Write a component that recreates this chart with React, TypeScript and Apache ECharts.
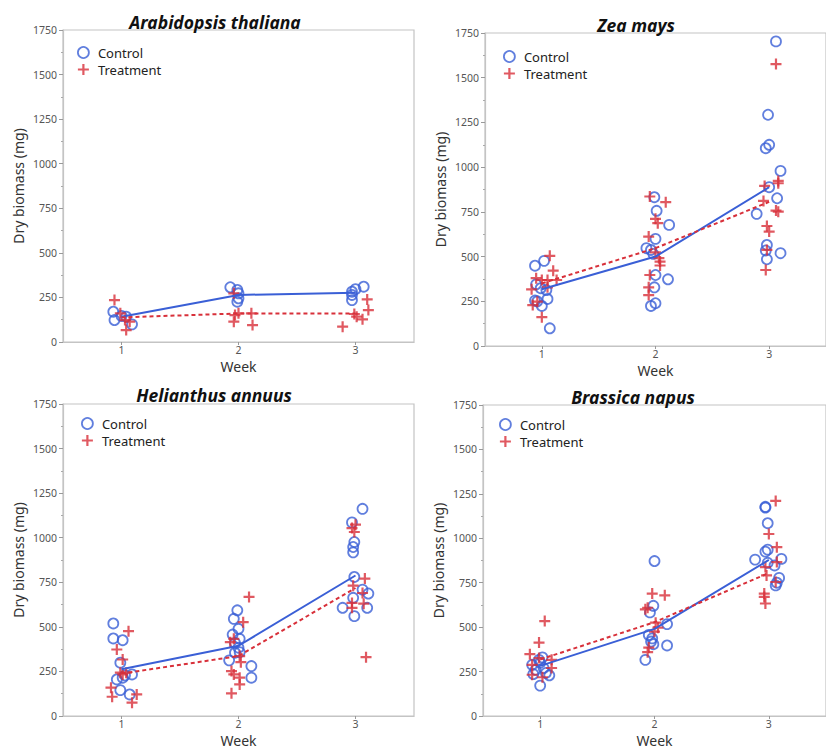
import React, { useEffect, useRef } from "react";
import * as echarts from "echarts";

// ---- data (week with horizontal jitter, dry biomass mg) ----
const weeks = [1, 2, 3];
const yTicks = [0, 250, 500, 750, 1000, 1250, 1500, 1750];

const arabTitle = "Arabidopsis thaliana";
const arabControl = [
  [0.93, 170], [0.94, 123], [1.0, 146], [1.04, 142], [1.09, 99],
  [1.93, 307], [1.99, 292], [2.0, 273], [2.0, 245], [1.99, 226],
  [2.97, 282], [2.97, 264], [2.97, 235], [3.0, 296], [3.07, 310],
];
const arabTreatment = [
  [0.94, 235], [0.99, 161], [1.03, 123], [1.07, 114], [1.04, 67],
  [1.96, 273], [1.97, 151], [1.96, 114], [2.0, 161], [2.11, 161], [2.12, 95],
  [2.89, 86], [2.99, 157], [3.01, 142], [3.06, 127], [3.1, 239], [3.11, 179],
];
const arabControlMean = [142, 264, 276];
const arabTreatmentMean = [138, 160, 160];

const zeaTitle = "Zea mays";
const zeaControl = [
  [0.94, 449], [1.02, 476], [0.95, 345], [0.99, 323], [1.04, 313], [0.94, 254], [0.96, 250], [1.0, 224], [1.05, 263], [1.07, 99],
  [1.99, 832], [2.01, 756], [2.0, 599], [1.92, 547], [1.96, 537], [1.98, 515], [2.0, 397], [1.99, 328], [1.96, 224], [2.0, 239], [2.12, 677], [2.11, 373],
  [3.06, 1703], [2.99, 1293], [2.97, 1106], [3.0, 1125], [3.1, 979], [3.0, 888], [3.07, 826], [2.89, 739], [2.98, 565], [2.97, 534], [2.98, 485], [3.1, 519],
];
const zeaTreatment = [
  [1.07, 504], [0.95, 379], [1.0, 369], [1.05, 369], [1.1, 421], [1.13, 369], [0.91, 317], [1.05, 328], [0.92, 229], [0.96, 248], [1.0, 161],
  [1.95, 836], [2.09, 804], [2.0, 711], [2.02, 687], [1.94, 612], [2.0, 524], [2.03, 491], [2.04, 472], [2.04, 450], [1.95, 397], [1.94, 328], [1.94, 285],
  [3.06, 1576], [3.08, 923], [3.08, 910], [2.96, 895], [2.95, 811], [3.06, 757], [3.08, 751], [2.98, 671], [3.0, 640], [2.98, 537], [2.97, 425],
];
const zeaControlMean = [317, 500, 888];
const zeaTreatmentMean = [350, 547, 806];

const heliTitle = "Helianthus annuus";
const heliControl = [
  [0.93, 519], [0.93, 435], [1.01, 425], [0.99, 299], [0.96, 205], [1.01, 215], [1.03, 228], [1.09, 233], [0.99, 145], [1.07, 121],
  [1.99, 593], [1.96, 545], [2.0, 489], [1.95, 457], [2.01, 433], [1.97, 410], [2.0, 383], [1.97, 355], [2.01, 358], [1.92, 312], [2.11, 280], [2.11, 215],
  [3.06, 1162], [2.97, 1086], [2.99, 976], [2.98, 948], [2.98, 918], [2.99, 780], [3.06, 709], [3.11, 687], [2.98, 663], [2.89, 607], [3.1, 607], [2.99, 560],
];
const heliTreatment = [
  [1.06, 476], [0.96, 373], [1.01, 317], [0.99, 243], [1.01, 233], [1.04, 243], [0.91, 159], [0.92, 108], [1.13, 121], [1.09, 75],
  [2.09, 668], [2.04, 526], [1.96, 433], [1.93, 414], [2.01, 336], [2.02, 302], [1.94, 252], [1.96, 233], [2.01, 215], [2.01, 177], [1.94, 127],
  [3.0, 1073], [2.97, 1054], [2.99, 1032], [3.08, 771], [2.98, 731], [3.06, 690], [2.97, 634], [3.07, 630], [2.97, 607], [3.09, 330],
];
const heliControlMean = [262, 394, 788];
const heliTreatmentMean = [238, 336, 718];

const brasTitle = "Brassica napus";
const brasControl = [
  [0.93, 288], [0.94, 236], [0.99, 316], [1.02, 330], [0.96, 260], [1.03, 270], [1.08, 229], [1.0, 171], [1.05, 242], [1.0, 300],
  [2.0, 872], [1.99, 620], [1.96, 583], [2.11, 517], [1.95, 456], [1.98, 437], [1.97, 419], [1.99, 404], [2.11, 397], [1.92, 316],
  [2.97, 1177], [2.97, 1173], [2.99, 1085], [2.99, 936], [2.97, 925], [2.88, 880], [2.99, 862], [3.11, 884], [3.05, 847], [3.09, 777], [3.06, 735], [3.07, 750],
];
const brasTreatment = [
  [1.04, 534], [0.99, 413], [0.91, 348], [0.99, 326], [1.1, 316], [0.93, 232], [1.02, 218], [1.1, 270], [0.93, 288],
  [1.98, 689], [2.09, 679], [1.94, 609], [1.92, 600], [2.01, 525], [2.03, 497], [2.0, 475], [1.95, 385], [1.94, 359],
  [3.06, 1210], [3.0, 1024], [3.07, 950], [2.97, 838], [2.98, 791], [3.07, 866], [2.96, 689], [2.96, 670], [2.97, 633], [3.06, 754],
];
const brasControlMean = [282, 490, 878];
const brasTreatmentMean = [318, 528, 805];

// ---- layout / style ----
const BLUE = "#3a5fd6";
const RED = "#d8303a";
const FONT = "'Noto Sans', 'Open Sans', sans-serif";
const PLUS = "path://M4,0H6V4H10V6H6V10H4V6H0V4H4Z";

const panels = [
  { title: arabTitle, control: arabControl, treatment: arabTreatment, cMean: arabControlMean, tMean: arabTreatmentMean },
  { title: zeaTitle, control: zeaControl, treatment: zeaTreatment, cMean: zeaControlMean, tMean: zeaTreatmentMean },
  { title: heliTitle, control: heliControl, treatment: heliTreatment, cMean: heliControlMean, tMean: heliTreatmentMean },
  { title: brasTitle, control: brasControl, treatment: brasTreatment, cMean: brasControlMean, tMean: brasTreatmentMean },
];
const layouts = [
  { left: 63, top: 30, width: 351, height: 312, titleX: 210, titleY: 8, legX: 77, legY: 46 },
  { left: 485, top: 33, width: 351, height: 313, titleX: 631, titleY: 11, legX: 503, legY: 50 },
  { left: 63, top: 404, width: 351, height: 313, titleX: 209, titleY: 381, legX: 81, legY: 417 },
  { left: 483, top: 405, width: 351, height: 313, titleX: 628, titleY: 383, legX: 499, legY: 418 },
];

function buildOption() {
  const grid: any[] = [];
  const xAxis: any[] = [];
  const yAxis: any[] = [];
  const title: any[] = [];
  const legend: any[] = [];
  const series: any[] = [];
  panels.forEach((p, i) => {
    const L = layouts[i];
    grid.push({
      left: L.left, top: L.top, width: L.width, height: L.height,
      show: true, borderColor: "#c4c4c4", borderWidth: 1.2, backgroundColor: "transparent",
    });
    xAxis.push({
      type: "value", gridIndex: i, min: 0.5, max: 3.5,
      name: "Week", nameLocation: "middle", nameGap: 17,
      nameTextStyle: { fontFamily: FONT, fontSize: 14, color: "#333", lineHeight: 15 },
      axisLine: { show: true, lineStyle: { color: "#c4c4c4", width: 1.2 } },
      axisTick: { show: true, customValues: weeks, length: 3, lineStyle: { color: "#999" } },
      axisLabel: { customValues: weeks, margin: 2, fontFamily: FONT, fontSize: 10.5, lineHeight: 11, color: "#555" },
      splitLine: { show: false },
    });
    yAxis.push({
      type: "value", gridIndex: i, min: yTicks[0], max: yTicks[yTicks.length - 1], interval: 250,
      name: "Dry biomass (mg)", nameLocation: "middle", nameGap: 38,
      nameTextStyle: { fontFamily: FONT, fontSize: 14, color: "#333" },
      axisLine: { show: true, lineStyle: { color: "#c4c4c4", width: 1.2 } },
      axisTick: { show: true, length: 4, lineStyle: { color: "#999" } },
      minorTick: { show: true, splitNumber: 2, length: 2, lineStyle: { color: "#aaa" } },
      axisLabel: { margin: 6, fontFamily: FONT, fontSize: 10.5, color: "#555", formatter: (v: number) => String(v) },
      splitLine: { show: false },
    });
    title.push({
      text: p.title, left: L.titleX, top: L.titleY, textAlign: "center",
      textStyle: { fontFamily: FONT, fontSize: 17.5, fontWeight: "bold", fontStyle: "italic", color: "#111" },
    });
    legend.push({
      orient: "vertical", left: L.legX, top: L.legY, itemWidth: 11, itemHeight: 11, itemGap: 4,
      padding: 0,
      textStyle: { fontFamily: FONT, fontSize: 13, lineHeight: 13, color: "#222", padding: [0, 0, 0, 4] },
      data: [
        { name: "Control", icon: "circle", itemStyle: { color: "rgba(0,0,0,0)", borderColor: BLUE, borderWidth: 1.8 } },
        { name: "Treatment", icon: PLUS, itemStyle: { color: RED, borderWidth: 0 } },
      ],
      selectedMode: false,
    });
    series.push({
      type: "scatter", name: "Control", xAxisIndex: i, yAxisIndex: i, data: p.control,
      symbol: "circle", symbolSize: 10,
      itemStyle: { color: "rgba(0,0,0,0)", borderColor: BLUE, borderWidth: 1.8 },
    });
    series.push({
      type: "scatter", name: "Treatment", xAxisIndex: i, yAxisIndex: i, data: p.treatment,
      symbol: PLUS, symbolSize: 11, itemStyle: { color: RED },
    });
    series.push({
      type: "line", name: "Control mean", xAxisIndex: i, yAxisIndex: i,
      data: weeks.map((w, j) => [w, p.cMean[j]]), symbol: "none",
      lineStyle: { color: BLUE, width: 2 }, z: 3,
    });
    series.push({
      type: "line", name: "Treatment mean", xAxisIndex: i, yAxisIndex: i,
      data: weeks.map((w, j) => [w, p.tMean[j]]), symbol: "none",
      lineStyle: { color: RED, width: 2, type: [4, 3] }, z: 3,
    });
  });
  return { animation: false, backgroundColor: "#fff", grid, xAxis, yAxis, title, legend, series };
}

export default function App() {
  const ref = useRef<HTMLDivElement>(null);
  useEffect(() => {
    if (!ref.current) return;
    const chart = echarts.init(ref.current, undefined, { renderer: "svg" });
    chart.setOption(buildOption() as any);
    return () => chart.dispose();
  }, []);
  return (
    <div
      ref={ref}
      style={{ position: "absolute", left: 0, top: 0, width: 826, height: 749, overflow: "hidden" }}
    />
  );
}
